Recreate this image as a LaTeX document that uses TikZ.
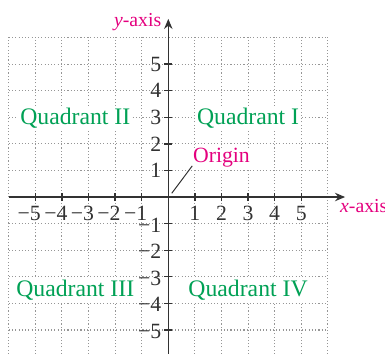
\documentclass[tikz,border=0pt]{standalone}
\usepackage{fontspec}
\setmainfont{Liberation Serif}
\usetikzlibrary{arrows.meta,positioning}
\definecolor{mg}{RGB}{228,0,126}
\definecolor{qg}{RGB}{0,161,85}
\definecolor{ax}{RGB}{50,50,50}
\definecolor{gr}{RGB}{150,150,150}

\begin{document}
\begin{tikzpicture}[x=0.473cm, y=0.473cm,
  gridline/.style={gr, line width=0.55pt, dash pattern=on 0.55pt off 1.1pt},
  axis/.style={-{Stealth[length=1.8mm, width=1.5mm]}, ax, line width=0.75pt},
  ticks/.style={ax, line width=0.7pt},
  quad/.style={qg, font=\fontsize{12}{14}\selectfont, fill=white, inner sep=1pt, anchor=base},
  lbl/.style={mg, font=\fontsize{10}{12}\selectfont, inner sep=0pt},
  num/.style={ax, font=\fontsize{11}{13}\selectfont, inner sep=0pt}
]
\useasboundingbox (-6.33,-5.9) rectangle (8.15,7.41);
% dotted grid behind everything
\draw[gridline, step=0.473cm] (-6,-5.9) grid (6,6);
% axes
\coordinate (O) at (0,0);
\coordinate (xs) at (-6,0);
\coordinate (xe) at (6.65,0);
\coordinate (ys) at (0,-5.9);
\coordinate (ye) at (0,6.7);
\draw[axis] (xs) -- (xe);
\draw[axis] (ys) -- (ye);
\node[lbl, anchor=base east] (ylab) at (-0.25,6.4) {\textit{y}-axis};
\node[lbl, anchor=base west] (xlab) at (6.45,-0.6) {\textit{x}-axis};
% ticks and numbers
\foreach \k in {1,...,5}{
  \draw[ticks] (\k,-0.15) -- (\k,0.15);
  \draw[ticks] (-\k,-0.15) -- (-\k,0.15);
  \draw[ticks] (-0.15,\k) -- (0.15,\k);
  \draw[ticks] (-0.15,-\k) -- (0.15,-\k);
  \node[num, anchor=base] (xp\k) at (\k,-0.87) {\k};
  \node[num, anchor=base] (xn\k) at (-\k,-0.87) {\llap{−}\k};
  \node[num, anchor=east] (yp\k) at (-0.25,\k) {\k};
  \node[num, anchor=east] (yn\k) at (-0.25,-\k-0.05) {−\k};
}
% quadrant names
\node[quad] (q1) at (3,2.74) {Quadrant I};
\node[quad] (q2) at (-3.5,2.74) {Quadrant II};
\node[quad] (q3) at (-3.5,-3.74) {Quadrant III};
\node[quad] (q4) at (3,-3.74) {Quadrant IV};
% origin label with leader
\node[mg, font=\fontsize{11}{13}\selectfont, fill=white, inner sep=0.5pt, anchor=base west] (org) at (0.88,1.28) {Origin};
\coordinate (tip) at (0.13,0.14);
\draw[ax, line width=0.5pt] ([shift={(0.02,-0.11)}]org.base west) -- (tip);
\end{tikzpicture}
\end{document}
